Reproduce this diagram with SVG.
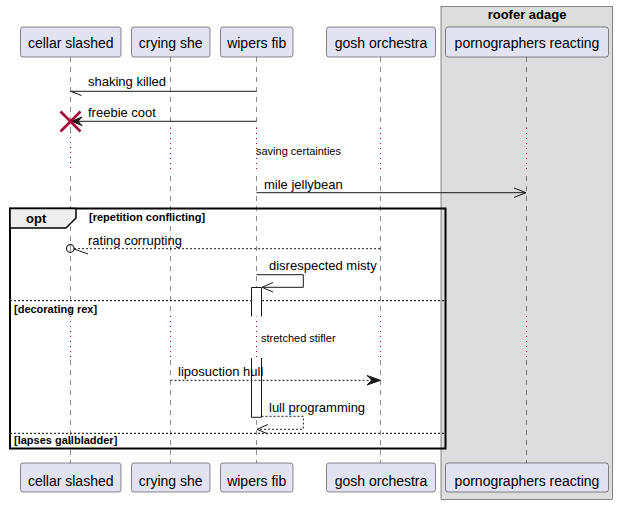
<svg xmlns="http://www.w3.org/2000/svg" width="617" height="505" viewBox="0 0 617 505">
<style>
.box{fill:#E2E2F0;stroke:#181818;stroke-width:0.5}
.pt{font-family:"Liberation Sans",Arial,sans-serif;font-size:14px;fill:#000;text-anchor:middle}
.life{stroke:#181818;stroke-width:0.5;stroke-dasharray:5,5;fill:none}
.delay{stroke:#A80036;stroke-width:1;stroke-dasharray:1,4;fill:none}
.msg{font-family:"Liberation Sans",Arial,sans-serif;font-size:13px;fill:#000}
.small{font-family:"Liberation Sans",Arial,sans-serif;font-size:11px;fill:#000}
.bold11{font-family:"Liberation Sans",Arial,sans-serif;font-size:11px;font-weight:bold;fill:#000}
.line{stroke:#181818;stroke-width:1;fill:none}
.dash{stroke:#181818;stroke-width:1;fill:none;stroke-dasharray:2,2}
.act{fill:#FFFFFF;stroke:none}
.actedge{stroke:#181818;stroke-width:1;fill:none}
</style>
<g id="group-roofer-adage">
<rect x="441" y="6.5" width="171.5" height="493" fill="#DDDDDD" stroke="#181818" stroke-width="0.5"/>
<text x="527" y="19" font-family="Liberation Sans,Arial,sans-serif" font-size="13" font-weight="bold" text-anchor="middle">roofer adage</text>
</g>
<g id="lifelines">
<line class="life" x1="70.5" y1="57" x2="70.5" y2="132"/>
<line class="delay" x1="70.5" y1="132" x2="70.5" y2="172"/>
<line class="life" x1="70.5" y1="176" x2="70.5" y2="316"/>
<line class="delay" x1="70.5" y1="316" x2="70.5" y2="357"/>
<line class="life" x1="70.5" y1="360" x2="70.5" y2="463"/>
<line class="life" x1="170.5" y1="57" x2="170.5" y2="128"/>
<line class="delay" x1="170.5" y1="128" x2="170.5" y2="172"/>
<line class="life" x1="170.5" y1="176" x2="170.5" y2="316"/>
<line class="delay" x1="170.5" y1="316" x2="170.5" y2="357"/>
<line class="life" x1="170.5" y1="360" x2="170.5" y2="463"/>
<line class="life" x1="256.5" y1="57" x2="256.5" y2="128"/>
<line class="delay" x1="256.5" y1="128" x2="256.5" y2="172"/>
<line class="life" x1="256.5" y1="176" x2="256.5" y2="316"/>
<line class="delay" x1="256.5" y1="316" x2="256.5" y2="357"/>
<line class="life" x1="256.5" y1="360" x2="256.5" y2="463"/>
<line class="life" x1="380.5" y1="57" x2="380.5" y2="128"/>
<line class="delay" x1="380.5" y1="128" x2="380.5" y2="172"/>
<line class="life" x1="380.5" y1="176" x2="380.5" y2="316"/>
<line class="delay" x1="380.5" y1="316" x2="380.5" y2="357"/>
<line class="life" x1="380.5" y1="360" x2="380.5" y2="463"/>
<line class="life" x1="526.5" y1="57" x2="526.5" y2="128"/>
<line class="delay" x1="526.5" y1="128" x2="526.5" y2="172"/>
<line class="life" x1="526.5" y1="176" x2="526.5" y2="316"/>
<line class="delay" x1="526.5" y1="316" x2="526.5" y2="357"/>
<line class="life" x1="526.5" y1="360" x2="526.5" y2="463"/>
</g>
<g id="p-cellar-slashed">
<rect class="box" x="20.5" y="27" width="100.5" height="30" rx="2.5"/>
<text class="pt" x="70.7" y="47.5">cellar slashed</text>
<rect class="box" x="20.5" y="463" width="100.5" height="29" rx="2.5"/>
<text class="pt" x="70.7" y="486">cellar slashed</text>
</g>
<g id="p-crying-she">
<rect class="box" x="131.5" y="27" width="78.5" height="30" rx="2.5"/>
<text class="pt" x="170.7" y="47.5">crying she</text>
<rect class="box" x="131.5" y="463" width="78.5" height="29" rx="2.5"/>
<text class="pt" x="170.7" y="486">crying she</text>
</g>
<g id="p-wipers-fib">
<rect class="box" x="220.5" y="27" width="72.5" height="30" rx="2.5"/>
<text class="pt" x="256.7" y="47.5">wipers fib</text>
<rect class="box" x="220.5" y="463" width="72.5" height="29" rx="2.5"/>
<text class="pt" x="256.7" y="486">wipers fib</text>
</g>
<g id="p-gosh-orchestra">
<rect class="box" x="326.5" y="27" width="109" height="30" rx="2.5"/>
<text class="pt" x="381" y="47.5">gosh orchestra</text>
<rect class="box" x="326.5" y="463" width="109" height="29" rx="2.5"/>
<text class="pt" x="381" y="486">gosh orchestra</text>
</g>
<g id="p-pornographers-reacting">
<rect class="box" x="445.5" y="27" width="163" height="30" rx="2.5"/>
<text class="pt" x="527" y="47.5">pornographers reacting</text>
<rect class="box" x="445.5" y="463" width="163" height="29" rx="2.5"/>
<text class="pt" x="527" y="486">pornographers reacting</text>
</g>
<g id="frame-opt">
<rect x="10" y="208.5" width="435.5" height="240" fill="none" stroke="#000" stroke-width="2"/>
<polygon points="10,208.5 76,208.5 76,218 66,228 10,228" fill="#EEEEEE" stroke="#000" stroke-width="1.5"/>
<text x="26" y="223" font-family="Liberation Sans,Arial,sans-serif" font-size="13" font-weight="bold">opt</text>
<text class="bold11" x="89" y="221">[repetition conflicting]</text>
<line x1="10" y1="300.7" x2="445.5" y2="300.7" stroke="#000" stroke-width="1" stroke-dasharray="2,2"/>
<text class="bold11" x="14" y="313">[decorating rex]</text>
<line x1="10" y1="433.3" x2="445.5" y2="433.3" stroke="#000" stroke-width="1" stroke-dasharray="2,2"/>
<text class="bold11" x="14" y="444">[lapses gallbladder]</text>
</g>
<g id="activations">
<rect class="act" x="251.5" y="287.5" width="10" height="29"/>
<polyline class="actedge" points="251.5,316.5 251.5,287.5 261.5,287.5 261.5,316.5"/>
<rect class="act" x="251.5" y="358" width="10" height="59"/>
<polyline class="actedge" points="251.5,358 251.5,417.3 261.5,417.3 261.5,358"/>
</g>
<g id="connectors">
<line class="line" x1="70.5" y1="91.3" x2="256.5" y2="91.3"/>
<line class="line" x1="70.5" y1="91.3" x2="81.5" y2="95.5"/>
<text class="msg" x="88" y="86">shaking killed</text>
<line class="line" x1="72" y1="121.3" x2="256.5" y2="121.3"/>
<polygon points="71.5,121.3 82,117 78,121.3 82,125.6" fill="#181818" stroke="#181818" stroke-width="1"/>
<g stroke="#A80036" stroke-width="2.5"><line x1="60.5" y1="111.5" x2="80.5" y2="131.5"/><line x1="80.5" y1="111.5" x2="60.5" y2="131.5"/></g>
<text class="msg" x="88" y="117">freebie coot</text>
<text class="small" x="256" y="155">saving certainties</text>
<line class="line" x1="256.5" y1="192.7" x2="526" y2="192.7"/>
<polyline class="line" points="514,188 526,192.7 514,197.4"/>
<text class="msg" x="264" y="189">mile jellybean</text>
<line class="dash" x1="74" y1="248.7" x2="380.5" y2="248.7"/>
<circle cx="70.3" cy="248.5" r="3.8" fill="none" stroke="#181818" stroke-width="1.2"/>
<line class="line" x1="74" y1="249" x2="88" y2="254"/>
<text class="msg" x="88" y="245">rating corrupting</text>
<polyline class="line" points="256.5,274.7 303.3,274.7 303.3,287.3 262,287.3"/>
<polyline class="line" points="273,282.5 262,287.3 273,292"/>
<text class="msg" x="269" y="270">disrespected misty</text>
<text class="small" x="261" y="342">stretched stifler</text>
<line class="dash" x1="170.5" y1="380.3" x2="374" y2="380.3"/>
<polygon points="380.5,380.3 367,375.5 372,380.3 367,385" fill="#181818" stroke="#181818" stroke-width="1"/>
<text class="msg" x="178" y="376">liposuction hull</text>
<polyline class="dash" points="261.5,416.3 303.3,416.3 303.3,429.3 257,429.3"/>
<polyline class="line" points="268,424.5 257,429.3 268,434"/>
<text class="msg" x="269" y="412">lull programming</text>
</g>
</svg>
